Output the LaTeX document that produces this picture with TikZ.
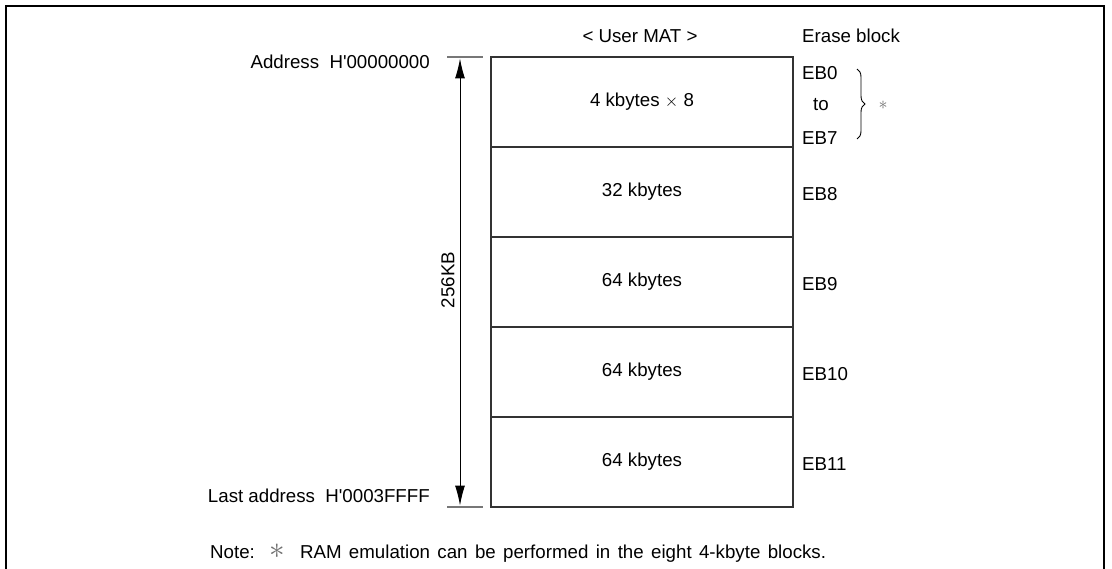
\documentclass[tikz,border=0pt]{standalone}
\usepackage{fontspec}
\setmainfont{Liberation Sans}
\usetikzlibrary{arrows.meta,decorations.pathreplacing}
\definecolor{boxcol}{HTML}{333333}
\definecolor{tickcol}{HTML}{777777}
\definecolor{astcol}{HTML}{707070}
\newcommand{\myast}{\textcolor{astcol}{\scalebox{1.8}{$\ast$}}}
\tikzset{
  lbl/.style={inner sep=0pt,font=\fontsize{18.7}{22}\selectfont},
  blk/.style={draw=boxcol,line width=1.2pt,minimum width=302pt,minimum height=90pt,inner sep=0pt,font=\fontsize{18.7}{22}\selectfont},
  tick/.style={draw=tickcol,line width=1.2pt},
  frame/.style={draw=black,line width=2.4pt},
  dim/.style={draw=black,line width=1pt,{Latex[length=20pt,width=10pt]}-{Latex[length=20pt,width=10pt]}},
  ast/.style={inner sep=0pt}
}
\begin{document}
\begin{tikzpicture}[x=1pt,y=-1pt]
\useasboundingbox (0,0) rectangle (1112,569);
\draw[frame] (6,569) -- (6,6) -- (1104,6) -- (1104,569);
% headers
\node[lbl] (hmat) at (640,36) {< User MAT >};
\node[lbl,anchor=west] (heb) at (802,36) {Erase block};
% blocks
\node[blk] (b0) at (642,102) {4 kbytes $\times$ 8};
\node[blk] (b1) at (642,192) {32 kbytes};
\node[blk] (b2) at (642,282) {64 kbytes};
\node[blk] (b3) at (642,372) {64 kbytes};
\node[blk] (b4) at (642,462) {64 kbytes};
% erase block labels
\node[lbl,anchor=west] (eb0) at (802,73) {EB0};
\node[lbl] (ebto) at (821,105) {to};
\node[lbl,anchor=west] (eb7) at (802,138) {EB7};
\node[lbl,anchor=west] (eb8) at (802,194) {EB8};
\node[lbl,anchor=west] (eb9) at (802,284) {EB9};
\node[lbl,anchor=west] (eb10) at (802,374) {EB10};
\node[lbl,anchor=west] (eb11) at (802,464) {EB11};
% brace
\coordinate (brt) at (857,69);
\coordinate (brb) at (857,139);
\draw[line width=0.9pt,decorate,decoration={brace,amplitude=8pt}] (brt) -- (brb);
\node[ast] (star) at (883,105) {\myast};
% address labels
\node[lbl,anchor=east] (addr) at (430,62) {Address\ \ H\textquotesingle 00000000};
\node[lbl,anchor=east] (laddr) at (430,496) {Last address\ \ H\textquotesingle 0003FFFF};
% ticks
\coordinate (t1a) at (447,57);
\coordinate (t1b) at (483,57);
\coordinate (t2a) at (447,507);
\coordinate (t2b) at (483,507);
\draw[tick] (t1a) -- (t1b);
\draw[tick] (t2a) -- (t2b);
% dimension arrow
\coordinate (ar1) at (460,58.5);
\coordinate (ar2) at (460,505.5);
\draw[dim] (ar1) -- (ar2);
\node[lbl,rotate=90] (size) at (448,280) {256KB};
% note
\node[lbl,anchor=west] (note) at (210,553) {\spaceskip=7.4pt\relax Note:\ \ \myast\ \ RAM emulation can be performed in the eight 4-kbyte blocks.};
\end{tikzpicture}
\end{document}
